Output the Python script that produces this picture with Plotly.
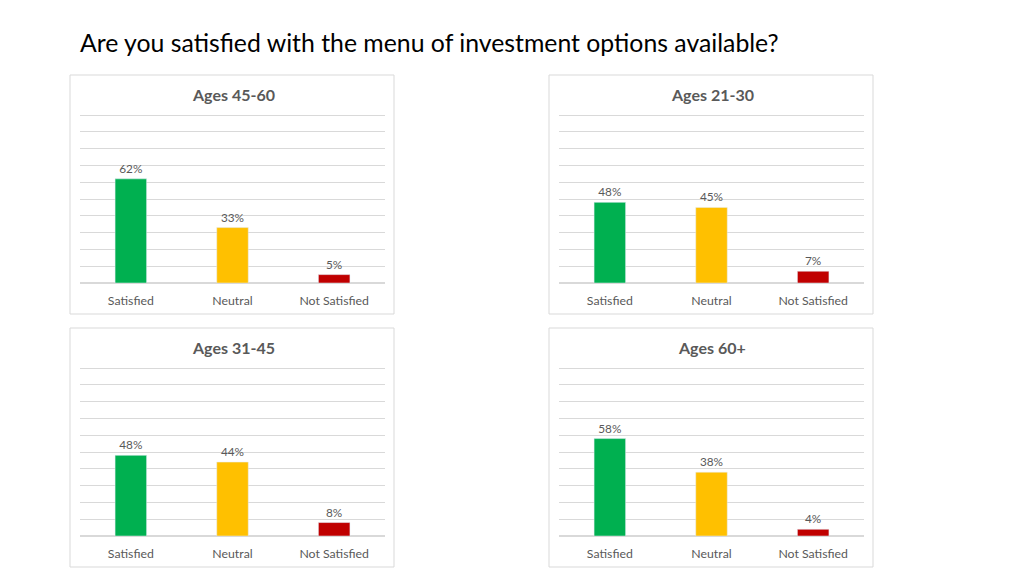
import plotly.graph_objects as go

categories = ["Satisfied", "Neutral", "Not Satisfied"]
panel_titles = ["Ages 45-60", "Ages 21-30", "Ages 31-45", "Ages 60+"]
values_45_60 = [62, 33, 5]
values_21_30 = [48, 45, 7]
values_31_45 = [48, 44, 8]
values_60_plus = [58, 38, 4]
bar_colors = ["#00B050", "#FFC000", "#C00000"]
main_title = "Are you satisfied with the menu of investment options available?"

W, H = 1024, 576
OFF = 8  # page body margin offset
series = [values_45_60, values_21_30, values_31_45, values_60_plus]
# panel boxes in pixels (page coords): (left, top)
panels = [(70, 75), (549, 75), (70, 328), (549, 328)]
PW, PH = 324, 239

fig = go.Figure()
shapes = []
annotations = []
FONT = "Lato, Open Sans, sans-serif"
GRAY = "#595959"

for i, (vals, (px, py), title) in enumerate(zip(series, panels, panel_titles)):
    n = i + 1
    px -= OFF
    py -= OFF
    xa = "x" if n == 1 else f"x{n}"
    ya = "y" if n == 1 else f"y{n}"
    fig.add_trace(go.Bar(
        x=categories, y=vals, marker_color=bar_colors, width=0.31,
        text=[f"{v}%" for v in vals], textposition="outside",
        textfont=dict(color=GRAY, size=11.8, family=FONT),
        cliponaxis=False, xaxis=xa, yaxis=ya, showlegend=False,
        hoverinfo="skip",
    ))
    x0, x1 = px + 10, px + 315
    y0, y1 = py + 38, py + 208
    xkey = "xaxis" if n == 1 else f"xaxis{n}"
    ykey = "yaxis" if n == 1 else f"yaxis{n}"
    fig.layout[xkey] = dict(domain=[x0 / W, x1 / W], anchor=ya,
                            showgrid=False, zeroline=False, showline=False,
                            tickfont=dict(color=GRAY, size=12.3, family=FONT),
                            ticklabelstandoff=9,
                            fixedrange=True)
    fig.layout[ykey] = dict(domain=[1 - y1 / H, 1 - y0 / H], anchor=xa,
                            range=[0, 101.2], tick0=0, dtick=10, showgrid=True,
                            gridcolor="#D9D9D9", gridwidth=1,
                            zeroline=True, zerolinecolor="#D9D9D9",
                            showticklabels=False, fixedrange=True)
    shapes.append(dict(type="rect", xref="paper", yref="paper",
                       x0=px / W, x1=(px + PW) / W,
                       y0=1 - (py + PH) / H, y1=1 - py / H,
                       line=dict(color="#D9D9D9", width=1), layer="below"))
    annotations.append(dict(text=f"<b>{title}</b>", xref="paper", yref="paper",
                            x=(px + PW / 2 + 1) / W, y=1 - (py + 19) / H,
                            xanchor="center", yanchor="middle", showarrow=False,
                            font=dict(color=GRAY, size=16, family=FONT)))

annotations.append(dict(text=main_title, xref="paper", yref="paper",
                        x=(78 - OFF) / W, y=1 - (43 - OFF) / H,
                        xanchor="left", yanchor="middle",
                        showarrow=False,
                        font=dict(color="#000000", size=24.8, family=FONT)))

fig.update_layout(width=W, height=H, margin=dict(l=0, r=0, t=0, b=0),
                  paper_bgcolor="white", plot_bgcolor="white",
                  shapes=shapes, annotations=annotations, bargap=0.69)

fig.write_html("out.html")
